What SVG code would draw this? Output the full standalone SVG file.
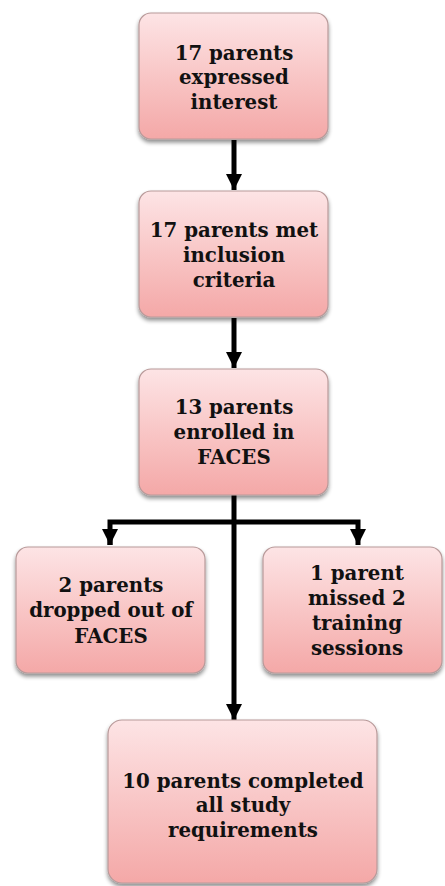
<svg xmlns="http://www.w3.org/2000/svg" width="445" height="886" viewBox="0 0 445 886">
  <defs>
    <linearGradient id="boxFill" x1="0" y1="0" x2="0" y2="1">
      <stop offset="0" stop-color="#fde4e5"/>
      <stop offset="1" stop-color="#f4a8a7"/>
    </linearGradient>
    <filter id="shadow" x="-10%" y="-10%" width="120%" height="130%">
      <feGaussianBlur in="SourceAlpha" stdDeviation="2"/>
      <feOffset dx="0" dy="3" result="b"/>
      <feComponentTransfer><feFuncA type="linear" slope="0.45"/></feComponentTransfer>
      <feMerge><feMergeNode/><feMergeNode in="SourceGraphic"/></feMerge>
    </filter>
    <marker id="arrow" viewBox="0 0 16 16" refX="16" refY="8" markerWidth="16" markerHeight="16" markerUnits="userSpaceOnUse" orient="auto">
      <path d="M0,0 L16,8 L0,16 Z" fill="#000"/>
    </marker>
  </defs>
  <style>
    .box { fill: url(#boxFill); stroke: #b89a9a; stroke-width: 1.2; filter: url(#shadow); }
    .lbl { font-family: "DejaVu Serif", "Liberation Serif", serif; font-weight: bold; font-size: 19.8px; fill: #111; text-anchor: middle; }
    .conn { stroke: #000; stroke-width: 5; fill: none; stroke-linejoin: miter; }
  </style>

  <g id="connectors">
    <line class="conn" x1="234" y1="140" x2="234" y2="190" marker-end="url(#arrow)"/>
    <line class="conn" x1="234" y1="318" x2="234" y2="368" marker-end="url(#arrow)"/>
    <line class="conn" x1="234" y1="495" x2="234" y2="720" marker-end="url(#arrow)"/>
    <polyline class="conn" points="110,545 110,522 358,522 358,545" marker-end="url(#arrow)"/>
    <line class="conn" x1="110" y1="530" x2="110" y2="545" marker-end="url(#arrow)"/>
  </g>

  <g id="interest">
    <rect class="box" x="139" y="13" width="189" height="126" rx="12"/>
    <text class="lbl" x="234" y="60">17 parents</text>
    <text class="lbl" x="234" y="84">expressed</text>
    <text class="lbl" x="234" y="109">interest</text>
  </g>

  <g id="criteria">
    <rect class="box" x="139" y="191" width="189" height="126" rx="12"/>
    <text class="lbl" x="234" y="237">17 parents met</text>
    <text class="lbl" x="234" y="262">inclusion</text>
    <text class="lbl" x="234" y="287">criteria</text>
  </g>

  <g id="enrolled">
    <rect class="box" x="139" y="369" width="189" height="126" rx="12"/>
    <text class="lbl" x="234" y="414">13 parents</text>
    <text class="lbl" x="234" y="439">enrolled in</text>
    <text class="lbl" x="234" y="464">FACES</text>
  </g>

  <g id="dropped">
    <rect class="box" x="16" y="547" width="189" height="126" rx="12"/>
    <text class="lbl" x="111" y="592">2 parents</text>
    <text class="lbl" x="111" y="617">dropped out of</text>
    <text class="lbl" x="111" y="643">FACES</text>
  </g>

  <g id="missed">
    <rect class="box" x="263" y="547" width="179" height="126" rx="12"/>
    <text class="lbl" x="357" y="580">1 parent</text>
    <text class="lbl" x="357" y="605">missed 2</text>
    <text class="lbl" x="357" y="630">training</text>
    <text class="lbl" x="357" y="655">sessions</text>
  </g>

  <g id="completed">
    <rect class="box" x="108" y="720" width="269" height="163" rx="14"/>
    <text class="lbl" x="243" y="788">10 parents completed</text>
    <text class="lbl" x="243" y="812">all study</text>
    <text class="lbl" x="243" y="837">requirements</text>
  </g>
</svg>
